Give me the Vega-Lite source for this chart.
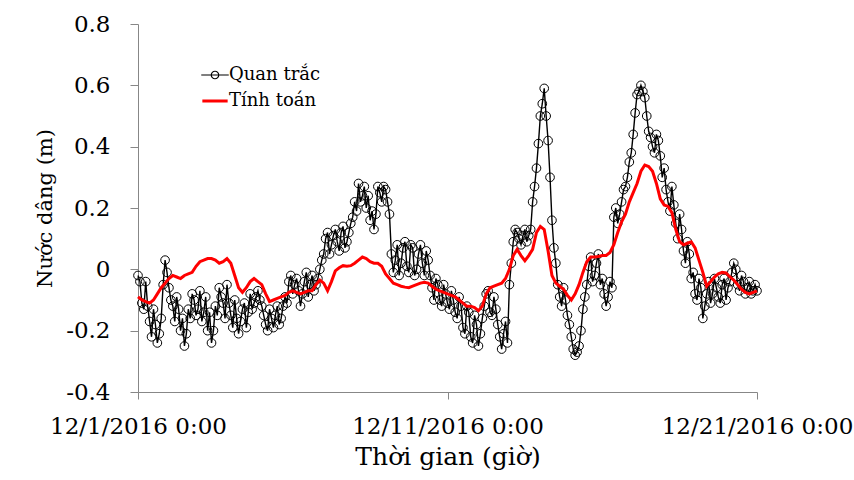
{
"$schema": "https://vega.github.io/schema/vega-lite/v6.json",
"autosize": {"type": "none"},
"padding": {"left": 138, "top": 24, "right": 97, "bottom": 88},
"width": 619,
"height": 368,
"background": "white",
"config": {"view": {"stroke": null}},
"data": {"values": [
{"t":"2016-12-01T00:00","Quan trắc":-0.02,"Tính toán":-0.09},{"t":"2016-12-01T01:30","Quan trắc":-0.04},
{"t":"2016-12-01T03:00","Quan trắc":-0.11,"Tính toán":-0.10},{"t":"2016-12-01T04:30","Quan trắc":-0.13},
{"t":"2016-12-01T06:00","Quan trắc":-0.04,"Tính toán":-0.105},{"t":"2016-12-01T07:30","Quan trắc":-0.12},
{"t":"2016-12-01T09:00","Quan trắc":-0.17,"Tính toán":-0.11},{"t":"2016-12-01T10:30","Quan trắc":-0.22},
{"t":"2016-12-01T12:00","Quan trắc":-0.13,"Tính toán":-0.10},{"t":"2016-12-01T13:30","Quan trắc":-0.18},
{"t":"2016-12-01T15:00","Quan trắc":-0.24,"Tính toán":-0.08},{"t":"2016-12-01T16:30","Quan trắc":-0.21},
{"t":"2016-12-01T18:00","Quan trắc":-0.16,"Tính toán":-0.06},{"t":"2016-12-01T19:30","Quan trắc":-0.05},
{"t":"2016-12-01T21:00","Quan trắc":0.03,"Tính toán":-0.045},{"t":"2016-12-01T22:30","Quan trắc":-0.01},
{"t":"2016-12-02T00:00","Quan trắc":-0.06,"Tính toán":-0.03},{"t":"2016-12-02T01:30","Quan trắc":-0.10},
{"t":"2016-12-02T03:00","Quan trắc":-0.12,"Tính toán":-0.02},{"t":"2016-12-02T04:30","Quan trắc":-0.17},
{"t":"2016-12-02T06:00","Quan trắc":-0.09,"Tính toán":-0.025},{"t":"2016-12-02T07:30","Quan trắc":-0.13},
{"t":"2016-12-02T09:00","Quan trắc":-0.20,"Tính toán":-0.03},{"t":"2016-12-02T10:30","Quan trắc":-0.16},
{"t":"2016-12-02T12:00","Quan trắc":-0.25,"Tính toán":-0.02},{"t":"2016-12-02T13:30","Quan trắc":-0.21},
{"t":"2016-12-02T15:00","Quan trắc":-0.13,"Tính toán":-0.015},{"t":"2016-12-02T16:30","Quan trắc":-0.16},
{"t":"2016-12-02T18:00","Quan trắc":-0.08,"Tính toán":-0.01},{"t":"2016-12-02T19:30","Quan trắc":-0.10},
{"t":"2016-12-02T21:00","Quan trắc":-0.15,"Tính toán":0.01},{"t":"2016-12-02T22:30","Quan trắc":-0.13},
{"t":"2016-12-03T00:00","Quan trắc":-0.07,"Tính toán":0.025},{"t":"2016-12-03T01:30","Quan trắc":-0.17},
{"t":"2016-12-03T03:00","Quan trắc":-0.14,"Tính toán":0.03},{"t":"2016-12-03T04:30","Quan trắc":-0.09},
{"t":"2016-12-03T06:00","Quan trắc":-0.20,"Tính toán":0.035},{"t":"2016-12-03T07:30","Quan trắc":-0.14},
{"t":"2016-12-03T09:00","Quan trắc":-0.24,"Tính toán":0.035},{"t":"2016-12-03T10:30","Quan trắc":-0.20},
{"t":"2016-12-03T12:00","Quan trắc":-0.12,"Tính toán":0.03},{"t":"2016-12-03T13:30","Quan trắc":-0.15},
{"t":"2016-12-03T15:00","Quan trắc":-0.06,"Tính toán":0.02},{"t":"2016-12-03T16:30","Quan trắc":-0.09},
{"t":"2016-12-03T18:00","Quan trắc":-0.11,"Tính toán":0.025},{"t":"2016-12-03T19:30","Quan trắc":-0.16},
{"t":"2016-12-03T21:00","Quan trắc":-0.05,"Tính toán":0.035},{"t":"2016-12-03T22:30","Quan trắc":-0.11},
{"t":"2016-12-04T00:00","Quan trắc":-0.15,"Tính toán":0.02},{"t":"2016-12-04T01:30","Quan trắc":-0.19},
{"t":"2016-12-04T03:00","Quan trắc":-0.10,"Tính toán":-0.02},{"t":"2016-12-04T04:30","Quan trắc":-0.16},
{"t":"2016-12-04T06:00","Quan trắc":-0.21,"Tính toán":-0.06},{"t":"2016-12-04T07:30","Quan trắc":-0.17},
{"t":"2016-12-04T09:00","Quan trắc":-0.13,"Tính toán":-0.075},{"t":"2016-12-04T10:30","Quan trắc":-0.11},
{"t":"2016-12-04T12:00","Quan trắc":-0.19,"Tính toán":-0.06},{"t":"2016-12-04T13:30","Quan trắc":-0.14},
{"t":"2016-12-04T15:00","Quan trắc":-0.08,"Tính toán":-0.04},{"t":"2016-12-04T16:30","Quan trắc":-0.13},
{"t":"2016-12-04T18:00","Quan trắc":-0.11,"Tính toán":-0.03},{"t":"2016-12-04T19:30","Quan trắc":-0.09},
{"t":"2016-12-04T21:00","Quan trắc":-0.07,"Tính toán":-0.04},{"t":"2016-12-04T22:30","Quan trắc":-0.10},
{"t":"2016-12-05T00:00","Quan trắc":-0.12,"Tính toán":-0.05},{"t":"2016-12-05T01:30","Quan trắc":-0.15},
{"t":"2016-12-05T03:00","Quan trắc":-0.18,"Tính toán":-0.08},{"t":"2016-12-05T04:30","Quan trắc":-0.20},
{"t":"2016-12-05T06:00","Quan trắc":-0.13,"Tính toán":-0.105},{"t":"2016-12-05T07:30","Quan trắc":-0.16},
{"t":"2016-12-05T09:00","Quan trắc":-0.19,"Tính toán":-0.10},{"t":"2016-12-05T10:30","Quan trắc":-0.15},
{"t":"2016-12-05T12:00","Quan trắc":-0.12,"Tính toán":-0.095},{"t":"2016-12-05T13:30","Quan trắc":-0.18},
{"t":"2016-12-05T15:00","Quan trắc":-0.16,"Tính toán":-0.09},{"t":"2016-12-05T16:30","Quan trắc":-0.12},
{"t":"2016-12-05T18:00","Quan trắc":-0.09,"Tính toán":-0.085},{"t":"2016-12-05T19:30","Quan trắc":-0.11},
{"t":"2016-12-05T21:00","Quan trắc":-0.04,"Tính toán":-0.075},{"t":"2016-12-05T22:30","Quan trắc":-0.02},
{"t":"2016-12-06T00:00","Quan trắc":-0.08,"Tính toán":-0.07},{"t":"2016-12-06T01:30","Quan trắc":-0.05},
{"t":"2016-12-06T03:00","Quan trắc":-0.03,"Tính toán":-0.075},{"t":"2016-12-06T04:30","Quan trắc":-0.07},
{"t":"2016-12-06T06:00","Quan trắc":-0.12,"Tính toán":-0.08},{"t":"2016-12-06T07:30","Quan trắc":-0.08},
{"t":"2016-12-06T09:00","Quan trắc":-0.04,"Tính toán":-0.075},{"t":"2016-12-06T10:30","Quan trắc":-0.01},
{"t":"2016-12-06T12:00","Quan trắc":-0.09,"Tính toán":-0.07},{"t":"2016-12-06T13:30","Quan trắc":-0.05},
{"t":"2016-12-06T15:00","Quan trắc":-0.02,"Tính toán":-0.07},{"t":"2016-12-06T16:30","Quan trắc":-0.07},
{"t":"2016-12-06T18:00","Quan trắc":-0.05,"Tính toán":-0.05},{"t":"2016-12-06T19:30","Quan trắc":-0.03},
{"t":"2016-12-06T21:00","Quan trắc":0.0,"Tính toán":-0.035},{"t":"2016-12-06T22:30","Quan trắc":0.03},
{"t":"2016-12-07T00:00","Quan trắc":0.05,"Tính toán":-0.045},{"t":"2016-12-07T01:30","Quan trắc":0.10},
{"t":"2016-12-07T03:00","Quan trắc":0.12,"Tính toán":-0.07},{"t":"2016-12-07T04:30","Quan trắc":0.05},
{"t":"2016-12-07T06:00","Quan trắc":0.08,"Tính toán":-0.04},{"t":"2016-12-07T07:30","Quan trắc":0.11},
{"t":"2016-12-07T09:00","Quan trắc":0.13,"Tính toán":-0.005},{"t":"2016-12-07T10:30","Quan trắc":0.09},
{"t":"2016-12-07T12:00","Quan trắc":0.06,"Tính toán":0.005},{"t":"2016-12-07T13:30","Quan trắc":0.12},
{"t":"2016-12-07T15:00","Quan trắc":0.14,"Tính toán":0.012},{"t":"2016-12-07T16:30","Quan trắc":0.07},
{"t":"2016-12-07T18:00","Quan trắc":0.09,"Tính toán":0.01},{"t":"2016-12-07T19:30","Quan trắc":0.12},
{"t":"2016-12-07T21:00","Quan trắc":0.15,"Tính toán":0.012},{"t":"2016-12-07T22:30","Quan trắc":0.17},
{"t":"2016-12-08T00:00","Quan trắc":0.22,"Tính toán":0.02},{"t":"2016-12-08T01:30","Quan trắc":0.19},
{"t":"2016-12-08T03:00","Quan trắc":0.28,"Tính toán":0.03},{"t":"2016-12-08T04:30","Quan trắc":0.22},
{"t":"2016-12-08T06:00","Quan trắc":0.24,"Tính toán":0.04},{"t":"2016-12-08T07:30","Quan trắc":0.27},
{"t":"2016-12-08T09:00","Quan trắc":0.20,"Tính toán":0.035},{"t":"2016-12-08T10:30","Quan trắc":0.24},
{"t":"2016-12-08T12:00","Quan trắc":0.16,"Tính toán":0.025},{"t":"2016-12-08T13:30","Quan trắc":0.19},
{"t":"2016-12-08T15:00","Quan trắc":0.13,"Tính toán":0.02},{"t":"2016-12-08T16:30","Quan trắc":0.18},
{"t":"2016-12-08T18:00","Quan trắc":0.27,"Tính toán":0.02},{"t":"2016-12-08T19:30","Quan trắc":0.25},
{"t":"2016-12-08T21:00","Quan trắc":0.22,"Tính toán":0.01},{"t":"2016-12-08T22:30","Quan trắc":0.27},
{"t":"2016-12-09T00:00","Quan trắc":0.26,"Tính toán":-0.015},{"t":"2016-12-09T01:30","Quan trắc":0.22},
{"t":"2016-12-09T03:00","Quan trắc":0.18,"Tính toán":-0.03},{"t":"2016-12-09T04:30","Quan trắc":0.05},
{"t":"2016-12-09T06:00","Quan trắc":-0.01,"Tính toán":-0.045},{"t":"2016-12-09T07:30","Quan trắc":0.03},
{"t":"2016-12-09T09:00","Quan trắc":0.08,"Tính toán":-0.05},{"t":"2016-12-09T10:30","Quan trắc":-0.02},
{"t":"2016-12-09T12:00","Quan trắc":0.02,"Tính toán":-0.055},{"t":"2016-12-09T13:30","Quan trắc":0.07},
{"t":"2016-12-09T15:00","Quan trắc":0.09,"Tính toán":-0.058},{"t":"2016-12-09T16:30","Quan trắc":0.01},
{"t":"2016-12-09T18:00","Quan trắc":-0.01,"Tính toán":-0.06},{"t":"2016-12-09T19:30","Quan trắc":0.08},
{"t":"2016-12-09T21:00","Quan trắc":0.07,"Tính toán":-0.055},{"t":"2016-12-09T22:30","Quan trắc":-0.02},
{"t":"2016-12-10T00:00","Quan trắc":0.0,"Tính toán":-0.05},{"t":"2016-12-10T01:30","Quan trắc":0.05},
{"t":"2016-12-10T03:00","Quan trắc":0.08,"Tính toán":-0.045},{"t":"2016-12-10T04:30","Quan trắc":0.02},
{"t":"2016-12-10T06:00","Quan trắc":-0.02,"Tính toán":-0.042},{"t":"2016-12-10T07:30","Quan trắc":0.06},
{"t":"2016-12-10T09:00","Quan trắc":0.03,"Tính toán":-0.045},{"t":"2016-12-10T10:30","Quan trắc":-0.02},
{"t":"2016-12-10T12:00","Quan trắc":-0.06,"Tính toán":-0.055},{"t":"2016-12-10T13:30","Quan trắc":-0.10},
{"t":"2016-12-10T15:00","Quan trắc":-0.03,"Tính toán":-0.065},{"t":"2016-12-10T16:30","Quan trắc":-0.05},
{"t":"2016-12-10T18:00","Quan trắc":-0.10,"Tính toán":-0.07},{"t":"2016-12-10T19:30","Quan trắc":-0.12},
{"t":"2016-12-10T21:00","Quan trắc":-0.05,"Tính toán":-0.075},{"t":"2016-12-10T22:30","Quan trắc":-0.08},
{"t":"2016-12-11T00:00","Quan trắc":-0.11,"Tính toán":-0.08},{"t":"2016-12-11T01:30","Quan trắc":-0.13},
{"t":"2016-12-11T03:00","Quan trắc":-0.07,"Tính toán":-0.085},{"t":"2016-12-11T04:30","Quan trắc":-0.10},
{"t":"2016-12-11T06:00","Quan trắc":-0.14,"Tính toán":-0.09},{"t":"2016-12-11T07:30","Quan trắc":-0.16},
{"t":"2016-12-11T09:00","Quan trắc":-0.09,"Tính toán":-0.10},{"t":"2016-12-11T10:30","Quan trắc":-0.12},
{"t":"2016-12-11T12:00","Quan trắc":-0.19,"Tính toán":-0.11},{"t":"2016-12-11T13:30","Quan trắc":-0.21},
{"t":"2016-12-11T15:00","Quan trắc":-0.12,"Tính toán":-0.12},{"t":"2016-12-11T16:30","Quan trắc":-0.14},
{"t":"2016-12-11T18:00","Quan trắc":-0.22,"Tính toán":-0.12},{"t":"2016-12-11T19:30","Quan trắc":-0.24},
{"t":"2016-12-11T21:00","Quan trắc":-0.15,"Tính toán":-0.125},{"t":"2016-12-11T22:30","Quan trắc":-0.18},
{"t":"2016-12-12T00:00","Quan trắc":-0.25,"Tính toán":-0.135},{"t":"2016-12-12T01:30","Quan trắc":-0.21},
{"t":"2016-12-12T03:00","Quan trắc":-0.16,"Tính toán":-0.12},{"t":"2016-12-12T04:30","Quan trắc":-0.12},
{"t":"2016-12-12T06:00","Quan trắc":-0.08,"Tính toán":-0.08},{"t":"2016-12-12T07:30","Quan trắc":-0.07},
{"t":"2016-12-12T09:00","Quan trắc":-0.14,"Tính toán":-0.06},{"t":"2016-12-12T10:30","Quan trắc":-0.15},
{"t":"2016-12-12T12:00","Quan trắc":-0.09,"Tính toán":-0.055},{"t":"2016-12-12T13:30","Quan trắc":-0.13},
{"t":"2016-12-12T15:00","Quan trắc":-0.18,"Tính toán":-0.05},{"t":"2016-12-12T16:30","Quan trắc":-0.22},
{"t":"2016-12-12T18:00","Quan trắc":-0.26,"Tính toán":-0.045},{"t":"2016-12-12T19:30","Quan trắc":-0.21},
{"t":"2016-12-12T21:00","Quan trắc":-0.17,"Tính toán":-0.03},{"t":"2016-12-12T22:30","Quan trắc":-0.24},
{"t":"2016-12-13T00:00","Quan trắc":-0.05,"Tính toán":0.0},{"t":"2016-12-13T01:30","Quan trắc":0.02},
{"t":"2016-12-13T03:00","Quan trắc":0.09,"Tính toán":0.045},{"t":"2016-12-13T04:30","Quan trắc":0.13},
{"t":"2016-12-13T06:00","Quan trắc":0.12,"Tính toán":0.065},{"t":"2016-12-13T07:30","Quan trắc":0.10},
{"t":"2016-12-13T09:00","Quan trắc":0.08,"Tính toán":0.045},{"t":"2016-12-13T10:30","Quan trắc":0.11},
{"t":"2016-12-13T12:00","Quan trắc":0.13,"Tính toán":0.028},{"t":"2016-12-13T13:30","Quan trắc":0.09},
{"t":"2016-12-13T15:00","Quan trắc":0.11,"Tính toán":0.045},{"t":"2016-12-13T16:30","Quan trắc":0.13},
{"t":"2016-12-13T18:00","Quan trắc":0.22,"Tính toán":0.065},{"t":"2016-12-13T19:30","Quan trắc":0.27},
{"t":"2016-12-13T21:00","Quan trắc":0.33,"Tính toán":0.12},{"t":"2016-12-13T22:30","Quan trắc":0.41},
{"t":"2016-12-14T00:00","Quan trắc":0.50,"Tính toán":0.14},{"t":"2016-12-14T01:30","Quan trắc":0.54},
{"t":"2016-12-14T03:00","Quan trắc":0.59,"Tính toán":0.13},{"t":"2016-12-14T04:30","Quan trắc":0.50},
{"t":"2016-12-14T06:00","Quan trắc":0.42,"Tính toán":0.06},{"t":"2016-12-14T07:30","Quan trắc":0.30},
{"t":"2016-12-14T09:00","Quan trắc":0.16,"Tính toán":-0.02},{"t":"2016-12-14T10:30","Quan trắc":0.07},
{"t":"2016-12-14T12:00","Quan trắc":0.02,"Tính toán":-0.045},{"t":"2016-12-14T13:30","Quan trắc":-0.05},
{"t":"2016-12-14T15:00","Quan trắc":-0.09,"Tính toán":-0.055},{"t":"2016-12-14T16:30","Quan trắc":-0.12},
{"t":"2016-12-14T18:00","Quan trắc":-0.06,"Tính toán":-0.065},{"t":"2016-12-14T19:30","Quan trắc":-0.10},
{"t":"2016-12-14T21:00","Quan trắc":-0.15,"Tính toán":-0.085},{"t":"2016-12-14T22:30","Quan trắc":-0.18},
{"t":"2016-12-15T00:00","Quan trắc":-0.22,"Tính toán":-0.10},{"t":"2016-12-15T01:30","Quan trắc":-0.26},
{"t":"2016-12-15T03:00","Quan trắc":-0.28,"Tính toán":-0.08},{"t":"2016-12-15T04:30","Quan trắc":-0.27},
{"t":"2016-12-15T06:00","Quan trắc":-0.25,"Tính toán":-0.05},{"t":"2016-12-15T07:30","Quan trắc":-0.20},
{"t":"2016-12-15T09:00","Quan trắc":-0.13,"Tính toán":-0.01},{"t":"2016-12-15T10:30","Quan trắc":-0.09},
{"t":"2016-12-15T12:00","Quan trắc":-0.05,"Tính toán":0.025},{"t":"2016-12-15T13:30","Quan trắc":0.01},
{"t":"2016-12-15T15:00","Quan trắc":0.04,"Tính toán":0.04},{"t":"2016-12-15T16:30","Quan trắc":-0.04},
{"t":"2016-12-15T18:00","Quan trắc":-0.02,"Tính toán":0.04},{"t":"2016-12-15T19:30","Quan trắc":0.02},
{"t":"2016-12-15T21:00","Quan trắc":0.05,"Tính toán":0.042},{"t":"2016-12-15T22:30","Quan trắc":-0.05},
{"t":"2016-12-16T00:00","Quan trắc":-0.03,"Tính toán":0.045},{"t":"2016-12-16T01:30","Quan trắc":-0.08},
{"t":"2016-12-16T03:00","Quan trắc":-0.12,"Tính toán":0.045},{"t":"2016-12-16T04:30","Quan trắc":-0.09},
{"t":"2016-12-16T06:00","Quan trắc":-0.04,"Tính toán":0.055},{"t":"2016-12-16T07:30","Quan trắc":-0.06},
{"t":"2016-12-16T09:00","Quan trắc":0.17,"Tính toán":0.08},{"t":"2016-12-16T10:30","Quan trắc":0.20},
{"t":"2016-12-16T12:00","Quan trắc":0.15,"Tính toán":0.12},{"t":"2016-12-16T13:30","Quan trắc":0.18},
{"t":"2016-12-16T15:00","Quan trắc":0.22,"Tính toán":0.155},{"t":"2016-12-16T16:30","Quan trắc":0.26},
{"t":"2016-12-16T18:00","Quan trắc":0.27,"Tính toán":0.18},{"t":"2016-12-16T19:30","Quan trắc":0.30},
{"t":"2016-12-16T21:00","Quan trắc":0.35,"Tính toán":0.22},{"t":"2016-12-16T22:30","Quan trắc":0.38},
{"t":"2016-12-17T00:00","Quan trắc":0.44,"Tính toán":0.25},{"t":"2016-12-17T01:30","Quan trắc":0.51},
{"t":"2016-12-17T03:00","Quan trắc":0.57,"Tính toán":0.28},{"t":"2016-12-17T04:30","Quan trắc":0.58},
{"t":"2016-12-17T06:00","Quan trắc":0.60,"Tính toán":0.32},{"t":"2016-12-17T07:30","Quan trắc":0.58},
{"t":"2016-12-17T09:00","Quan trắc":0.56,"Tính toán":0.34},{"t":"2016-12-17T10:30","Quan trắc":0.50},
{"t":"2016-12-17T12:00","Quan trắc":0.45,"Tính toán":0.335},{"t":"2016-12-17T13:30","Quan trắc":0.43},
{"t":"2016-12-17T15:00","Quan trắc":0.40,"Tính toán":0.32},{"t":"2016-12-17T16:30","Quan trắc":0.38},
{"t":"2016-12-17T18:00","Quan trắc":0.44,"Tính toán":0.28},{"t":"2016-12-17T19:30","Quan trắc":0.42},
{"t":"2016-12-17T21:00","Quan trắc":0.37,"Tính toán":0.23},{"t":"2016-12-17T22:30","Quan trắc":0.30},
{"t":"2016-12-18T00:00","Quan trắc":0.33,"Tính toán":0.21},{"t":"2016-12-18T01:30","Quan trắc":0.26},
{"t":"2016-12-18T03:00","Quan trắc":0.22,"Tính toán":0.205},{"t":"2016-12-18T04:30","Quan trắc":0.19},
{"t":"2016-12-18T06:00","Quan trắc":0.27,"Tính toán":0.185},{"t":"2016-12-18T07:30","Quan trắc":0.21},
{"t":"2016-12-18T09:00","Quan trắc":0.15,"Tính toán":0.13},{"t":"2016-12-18T10:30","Quan trắc":0.10},
{"t":"2016-12-18T12:00","Quan trắc":0.18,"Tính toán":0.09},{"t":"2016-12-18T13:30","Quan trắc":0.13},
{"t":"2016-12-18T15:00","Quan trắc":0.06,"Tính toán":0.08},{"t":"2016-12-18T16:30","Quan trắc":0.02},
{"t":"2016-12-18T18:00","Quan trắc":0.09,"Tính toán":0.085},{"t":"2016-12-18T19:30","Quan trắc":0.05},
{"t":"2016-12-18T21:00","Quan trắc":-0.03,"Tính toán":0.09},{"t":"2016-12-18T22:30","Quan trắc":-0.01},
{"t":"2016-12-19T00:00","Quan trắc":-0.08,"Tính toán":0.07},{"t":"2016-12-19T01:30","Quan trắc":-0.10},
{"t":"2016-12-19T03:00","Quan trắc":-0.03,"Tính toán":0.03},{"t":"2016-12-19T04:30","Quan trắc":-0.06},
{"t":"2016-12-19T06:00","Quan trắc":-0.16,"Tính toán":-0.01},{"t":"2016-12-19T07:30","Quan trắc":-0.12},
{"t":"2016-12-19T09:00","Quan trắc":-0.08,"Tính toán":-0.055},{"t":"2016-12-19T10:30","Quan trắc":-0.04},
{"t":"2016-12-19T12:00","Quan trắc":-0.11,"Tính toán":-0.04},{"t":"2016-12-19T13:30","Quan trắc":-0.08},
{"t":"2016-12-19T15:00","Quan trắc":-0.03,"Tính toán":-0.025},{"t":"2016-12-19T16:30","Quan trắc":-0.06},
{"t":"2016-12-19T18:00","Quan trắc":-0.09,"Tính toán":-0.015},{"t":"2016-12-19T19:30","Quan trắc":-0.11},
{"t":"2016-12-19T21:00","Quan trắc":-0.05,"Tính toán":-0.01},{"t":"2016-12-19T22:30","Quan trắc":-0.03},
{"t":"2016-12-20T00:00","Quan trắc":-0.10,"Tính toán":-0.012},{"t":"2016-12-20T01:30","Quan trắc":-0.06},
{"t":"2016-12-20T03:00","Quan trắc":-0.04,"Tính toán":-0.025},{"t":"2016-12-20T04:30","Quan trắc":-0.01},
{"t":"2016-12-20T06:00","Quan trắc":0.02,"Tính toán":-0.035},{"t":"2016-12-20T07:30","Quan trắc":0.0},
{"t":"2016-12-20T09:00","Quan trắc":-0.05,"Tính toán":-0.05},{"t":"2016-12-20T10:30","Quan trắc":-0.07},
{"t":"2016-12-20T12:00","Quan trắc":-0.02,"Tính toán":-0.065},{"t":"2016-12-20T13:30","Quan trắc":-0.04},
{"t":"2016-12-20T15:00","Quan trắc":-0.08,"Tính toán":-0.075},{"t":"2016-12-20T16:30","Quan trắc":-0.06},
{"t":"2016-12-20T18:00","Quan trắc":-0.04,"Tính toán":-0.08},{"t":"2016-12-20T19:30","Quan trắc":-0.08},
{"t":"2016-12-20T21:00","Quan trắc":-0.07,"Tính toán":-0.075},{"t":"2016-12-20T22:30","Quan trắc":-0.05},
{"t":"2016-12-21T00:00","Quan trắc":-0.07,"Tính toán":-0.07}
]},
"transform": [{"fold": ["Quan trắc", "Tính toán"], "as": ["series", "v"]}, {"filter": "isValid(datum.v)"}],
"encoding": {
  "x": {"field": "t", "type": "temporal",
    "scale": {"domain": [{"year": 2016, "month": 12, "date": 1}, {"year": 2016, "month": 12, "date": 21}], "nice": false},
    "axis": {"values": [{"year": 2016, "month": 12, "date": 1}, {"year": 2016, "month": 12, "date": 11}, {"year": 2016, "month": 12, "date": 21}],
      "format": "%-m/%-d/%Y %-H:%M", "title": "Thời gian (giờ)", "grid": false,
      "domainColor": "#878787", "tickColor": "#878787", "tickSize": 7, "labelPadding": 16,
      "labelFont": "DejaVu Serif", "labelFontSize": 23, "labelColor": "black", "labelFontWeight": "normal",
      "labelOverlap": false, "labelFlush": false, "labelLimit": 0,
      "titleFont": "DejaVu Serif", "titleFontSize": 25, "titleFontWeight": "normal", "titleColor": "black", "titlePadding": 6}},
  "y": {"field": "v", "type": "quantitative",
    "scale": {"domain": [-0.4, 0.8], "nice": false, "zero": false},
    "axis": {"values": [-0.4, -0.2, 0, 0.2, 0.4, 0.6, 0.8], "labelExpr": "'' + round(datum.value * 10) / 10",
      "title": "Nước dâng (m)", "grid": false,
      "domainColor": "#878787", "tickColor": "#878787", "tickSize": 8, "labelPadding": 20,
      "labelFont": "DejaVu Serif", "labelFontSize": 23, "labelColor": "black",
      "titleFont": "DejaVu Serif", "titleFontSize": 21, "titleFontWeight": "normal", "titleColor": "black", "titlePadding": 10}}
},
"layer": [
  {"transform": [{"filter": "datum.series === 'Quan trắc'"}],
   "mark": {"type": "line", "strokeWidth": 1.4},
   "encoding": {"color": {"field": "series", "type": "nominal",
      "scale": {"domain": ["Quan trắc", "Tính toán"], "range": ["#000000", "#FF0000"]},
      "legend": {"title": null, "orient": "none", "legendX": 68, "legendY": 42,
        "labelFont": "DejaVu Serif", "labelFontSize": 18, "labelColor": "black", "labelOffset": 5,
        "symbolSize": 484, "rowPadding": 8,
        "encode": {"symbols": {"update": {
          "shape": {"signal": "datum.value === 'Quan trắc' ? 'M-1.25,0L1.25,0M0.34,0A0.34,0.34 0 1,1 -0.34,0A0.34,0.34 0 1,1 0.34,0' : 'M-1.15,0L1.15,0'"},
          "strokeWidth": {"signal": "datum.value === 'Quan trắc' ? 1.2 : 3"},
          "fill": {"value": "transparent"}}}}}}}},
  {"transform": [{"filter": "datum.series === 'Quan trắc'"}],
   "mark": {"type": "point", "shape": "circle", "filled": false, "size": 75, "stroke": "#000000", "strokeWidth": 1, "opacity": 1}},
  {"transform": [{"filter": "datum.series === 'Tính toán'"}],
   "mark": {"type": "line", "strokeWidth": 3},
   "encoding": {"color": {"field": "series", "type": "nominal"}}}
]
}
